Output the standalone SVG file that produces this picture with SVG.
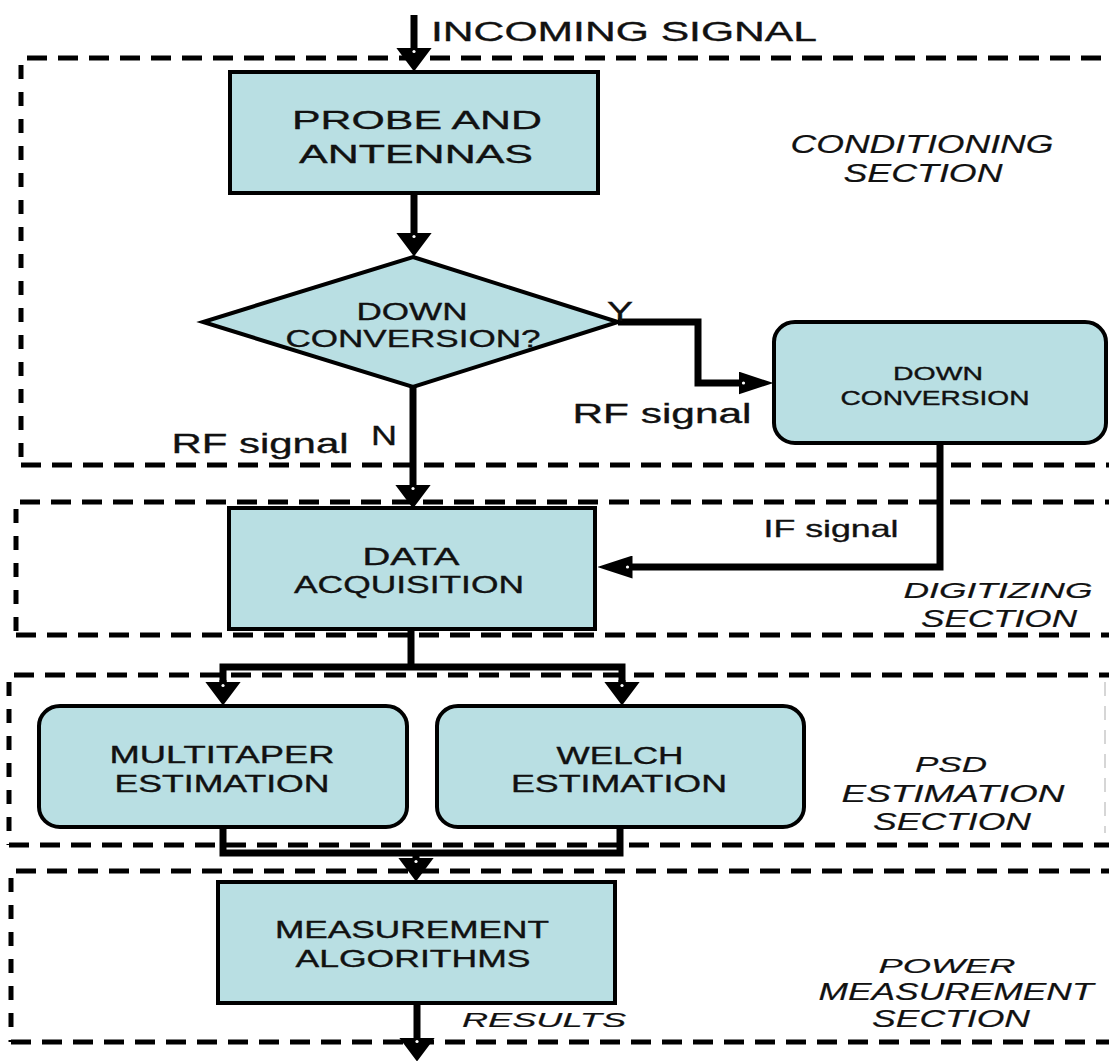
<svg xmlns="http://www.w3.org/2000/svg" width="1109" height="1061" viewBox="0 0 1109 1061">
<style>
  .box { fill: #b9dfe3; stroke: #000; stroke-width: 4; }
  .conn { fill: none; stroke: #000; stroke-width: 7; stroke-linejoin: miter; }
  .dh { fill: none; stroke: #000; stroke-width: 5; stroke-dasharray: 20 11; }
  .dv { fill: none; stroke: #000; stroke-width: 5; stroke-dasharray: 14 13; }
  text { font-family: "Liberation Sans", Arial, sans-serif; fill: #111; stroke: #111; stroke-width: 0.35; text-anchor: middle; }
  .it { font-style: italic; stroke-width: 0.2; }
</style>
<defs>
  <marker id="ahv" markerUnits="userSpaceOnUse" viewBox="0 0 24 36" markerWidth="24" markerHeight="36" refX="0.5" refY="18" orient="auto">
    <path d="M0,0 L24,18 L0,36 Z" fill="#000"/>
    <circle cx="4" cy="18" r="1.6" fill="#fff"/>
  </marker>
  <marker id="ahh" markerUnits="userSpaceOnUse" viewBox="0 0 35 23" markerWidth="35" markerHeight="23" refX="0.5" refY="11.5" orient="auto">
    <path d="M0,0 L35,11.5 L0,23 Z" fill="#000"/>
    <circle cx="5" cy="11.5" r="1.6" fill="#fff"/>
  </marker>
</defs>

<g id="sections">
  <g id="conditioning-section">
    <path class="dh" d="M27,58 H1109"/>
    <path class="dv" d="M21,65 V465"/>
    <path class="dh" d="M21,465 H1109"/>
    <text class="it" x="922" y="153" font-size="25" textLength="263" lengthAdjust="spacingAndGlyphs">CONDITIONING</text>
    <text class="it" x="923" y="182" font-size="25" textLength="159" lengthAdjust="spacingAndGlyphs">SECTION</text>
  </g>
  <g id="digitizing-section">
    <path class="dh" d="M20,502 H1109"/>
    <path class="dv" d="M16,509 V635"/>
    <path class="dh" d="M16,635 H1109"/>
    <text class="it" x="998" y="598" font-size="22" textLength="189" lengthAdjust="spacingAndGlyphs">DIGITIZING</text>
    <text class="it" x="999" y="627" font-size="23" textLength="156" lengthAdjust="spacingAndGlyphs">SECTION</text>
  </g>
  <g id="psd-section">
    <path class="dh" d="M14,675 H1109"/>
    <path class="dv" d="M9,682 V845"/>
    <path class="dh" d="M9,845 H1109"/>
    <path d="M1105,682 V833" fill="none" stroke="#d6d6d6" stroke-width="2" stroke-dasharray="14 10"/>
    <text class="it" x="951" y="772" font-size="22" textLength="72" lengthAdjust="spacingAndGlyphs">PSD</text>
    <text class="it" x="953" y="802" font-size="23" textLength="223" lengthAdjust="spacingAndGlyphs">ESTIMATION</text>
    <text class="it" x="952" y="830" font-size="23" textLength="158" lengthAdjust="spacingAndGlyphs">SECTION</text>
  </g>
  <g id="power-section">
    <path class="dh" d="M16,871 H1109"/>
    <path class="dv" d="M11,878 V1042"/>
    <path class="dh" d="M11,1042 H1109"/>
    <text class="it" x="947" y="973" font-size="21" textLength="137" lengthAdjust="spacingAndGlyphs">POWER</text>
    <text class="it" x="956" y="1000" font-size="23" textLength="275" lengthAdjust="spacingAndGlyphs">MEASUREMENT</text>
    <text class="it" x="951" y="1027" font-size="23" textLength="158" lengthAdjust="spacingAndGlyphs">SECTION</text>
  </g>
</g>

<g id="connectors">
  <path class="conn" d="M414,15 V48" marker-end="url(#ahv)"/>
  <path class="conn" d="M414,193 V233" marker-end="url(#ahv)"/>
  <path class="conn" d="M413,387 V485" marker-end="url(#ahv)"/>
  <path class="conn" d="M618,322 H698 V383 H739" marker-end="url(#ahh)"/>
  <path class="conn" d="M940,443 V567 H632" marker-end="url(#ahh)"/>
  <path class="conn" d="M411,629 V667"/>
  <path class="conn" d="M223,682 V667 H622 V682"/>
  <path class="conn" d="M223,680 V682" marker-end="url(#ahv)"/>
  <path class="conn" d="M622,680 V682" marker-end="url(#ahv)"/>
  <path class="conn" d="M223,827 V853 H620 V827"/>
  <path class="conn" d="M416,853 V858" marker-end="url(#ahv)"/>
  <path class="conn" d="M417,1003 V1038" marker-end="url(#ahv)"/>
  <text x="624" y="41" font-size="27" textLength="386" lengthAdjust="spacingAndGlyphs">INCOMING SIGNAL</text>
  <text x="620" y="321" font-size="27" textLength="26" lengthAdjust="spacingAndGlyphs">Y</text>
  <text x="384" y="445" font-size="27" textLength="26" lengthAdjust="spacingAndGlyphs">N</text>
  <text x="260" y="453" font-size="28" textLength="177" lengthAdjust="spacingAndGlyphs">RF signal</text>
  <text x="662" y="423" font-size="28" textLength="179" lengthAdjust="spacingAndGlyphs">RF signal</text>
  <text x="831" y="537" font-size="24" textLength="135" lengthAdjust="spacingAndGlyphs">IF signal</text>
  <text class="it" x="544" y="1027" font-size="21" textLength="164" lengthAdjust="spacingAndGlyphs">RESULTS</text>
</g>

<g id="probe-and-antennas">
  <rect class="box" x="230" y="72" width="368" height="121"/>
  <text x="417" y="129" font-size="26.5" textLength="250" lengthAdjust="spacingAndGlyphs">PROBE AND</text>
  <text x="416" y="163" font-size="26.5" textLength="234" lengthAdjust="spacingAndGlyphs">ANTENNAS</text>
</g>

<g id="down-conversion-decision">
  <polygon class="box" points="413,257 618,322 413,387 203,322"/>
  <text x="412" y="320" font-size="24" textLength="111" lengthAdjust="spacingAndGlyphs">DOWN</text>
  <text x="413" y="347" font-size="24" textLength="255" lengthAdjust="spacingAndGlyphs">CONVERSION?</text>
</g>

<g id="down-conversion">
  <rect class="box" x="774" y="322" width="332" height="121" rx="21" ry="20"/>
  <text x="938" y="380" font-size="19" textLength="90" lengthAdjust="spacingAndGlyphs">DOWN</text>
  <text x="935" y="405" font-size="19.5" textLength="189" lengthAdjust="spacingAndGlyphs">CONVERSION</text>
</g>

<g id="data-acquisition">
  <rect class="box" x="229" y="508" width="366" height="121"/>
  <text x="411" y="565" font-size="24" textLength="97" lengthAdjust="spacingAndGlyphs">DATA</text>
  <text x="409" y="593" font-size="24" textLength="230" lengthAdjust="spacingAndGlyphs">ACQUISITION</text>
</g>

<g id="multitaper-estimation">
  <rect class="box" x="39" y="706" width="368" height="121" rx="21" ry="20"/>
  <text x="222" y="763" font-size="23" textLength="225" lengthAdjust="spacingAndGlyphs">MULTITAPER</text>
  <text x="222" y="792" font-size="23" textLength="215" lengthAdjust="spacingAndGlyphs">ESTIMATION</text>
</g>

<g id="welch-estimation">
  <rect class="box" x="437" y="706" width="367" height="121" rx="21" ry="20"/>
  <text x="620" y="764" font-size="23" textLength="127" lengthAdjust="spacingAndGlyphs">WELCH</text>
  <text x="619" y="792" font-size="23" textLength="216" lengthAdjust="spacingAndGlyphs">ESTIMATION</text>
</g>

<g id="measurement-algorithms">
  <rect class="box" x="218" y="882" width="397" height="121"/>
  <text x="412" y="938" font-size="23" textLength="274" lengthAdjust="spacingAndGlyphs">MEASUREMENT</text>
  <text x="413" y="967" font-size="23" textLength="235" lengthAdjust="spacingAndGlyphs">ALGORITHMS</text>
</g>
</svg>
